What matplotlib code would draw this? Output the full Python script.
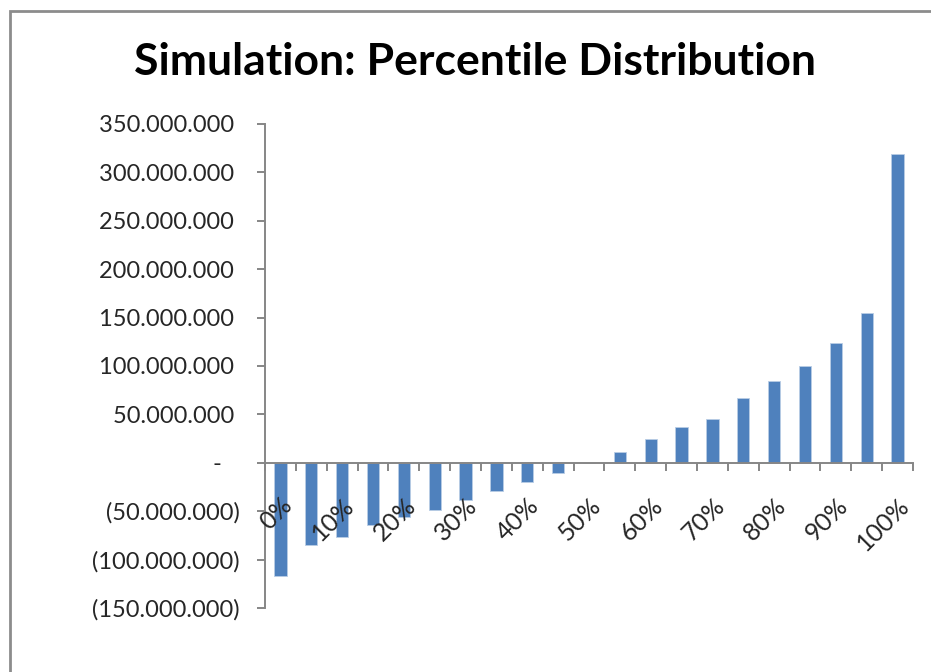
import numpy as np
import matplotlib.pyplot as plt
from matplotlib.patches import Rectangle
from matplotlib.ticker import FuncFormatter

# percentile buckets of the simulated outcome, every 5%
percentiles = ["0%", "5%", "10%", "15%", "20%", "25%", "30%", "35%", "40%", "45%", "50%",
               "55%", "60%", "65%", "70%", "75%", "80%", "85%", "90%", "95%", "100%"]
values = [-117_000_000, -85_000_000, -77_000_000, -64_000_000, -56_000_000, -49_000_000,
          -38_000_000, -29_000_000, -20_000_000, -10_500_000, 0,
          11_000_000, 24_500_000, 36_500_000, 45_500_000, 66_500_000, 85_000_000,
          100_000_000, 123_500_000, 155_000_000, 319_500_000]
y_ticks = [-150_000_000, -100_000_000, -50_000_000, 0, 50_000_000, 100_000_000,
           150_000_000, 200_000_000, 250_000_000, 300_000_000, 350_000_000]

plt.rcParams['font.family'] = ['Lato', 'DejaVu Sans']

axis_grey = '#868686'
bar_blue = '#4F81BD'


def accounting(v, pos=None):
    # Excel style accounting format with dot as thousands separator
    if v == 0:
        return "-   "
    s = f"{abs(int(v)):,}".replace(",", ".")
    if v < 0:
        return f"({s})"
    return s + " "


fig = plt.figure(figsize=(9.31, 6.72), dpi=100)
ax = fig.add_axes([265 / 931, 1 - 608 / 672, 648 / 931, 484 / 672])
ax.set_axisbelow(False)

x = np.arange(len(percentiles))
ax.bar(x, values, width=0.4, color=bar_blue, edgecolor='#B9CDE5', linewidth=0.6, zorder=2)

ax.set_xlim(-0.5, len(percentiles) - 0.5)
ax.set_ylim(y_ticks[0], y_ticks[-1])
ax.set_yticks(y_ticks)
ax.yaxis.set_major_formatter(FuncFormatter(accounting))

# category axis runs along zero, labels every other bucket
ax.spines['bottom'].set_position(('data', 0))
for side in ['top', 'right']:
    ax.spines[side].set_visible(False)
for side in ['left', 'bottom']:
    ax.spines[side].set_color(axis_grey)
    ax.spines[side].set_linewidth(1.4)

ax.set_xticks(x[::2])
ax.set_xticklabels(percentiles[::2], rotation=45, ha='right', va='top',
                   rotation_mode='anchor', fontsize=18, color='#262626')
ax.set_xticks(np.arange(-0.5, len(percentiles), 1), minor=True)
ax.tick_params(axis='x', which='major', length=0, pad=22)
ax.tick_params(axis='x', which='minor', length=6, width=1.4, color=axis_grey, direction='out')
ax.tick_params(axis='y', length=6, width=1.4, color=axis_grey, direction='out',
               labelsize=17, labelcolor='#262626', pad=12)

fig.text(0.5107, 0.908, "Simulation: Percentile Distribution", ha='center', va='center',
         fontsize=32, fontweight='bold', color='black')

# chart area border
fig.patches.append(Rectangle((10 / 931, -0.1), 1.0, 1.1 - 11 / 672, transform=fig.transFigure,
                             fill=False, edgecolor='#8C8C8C', linewidth=2))

fig.savefig("out.png", dpi=100)
